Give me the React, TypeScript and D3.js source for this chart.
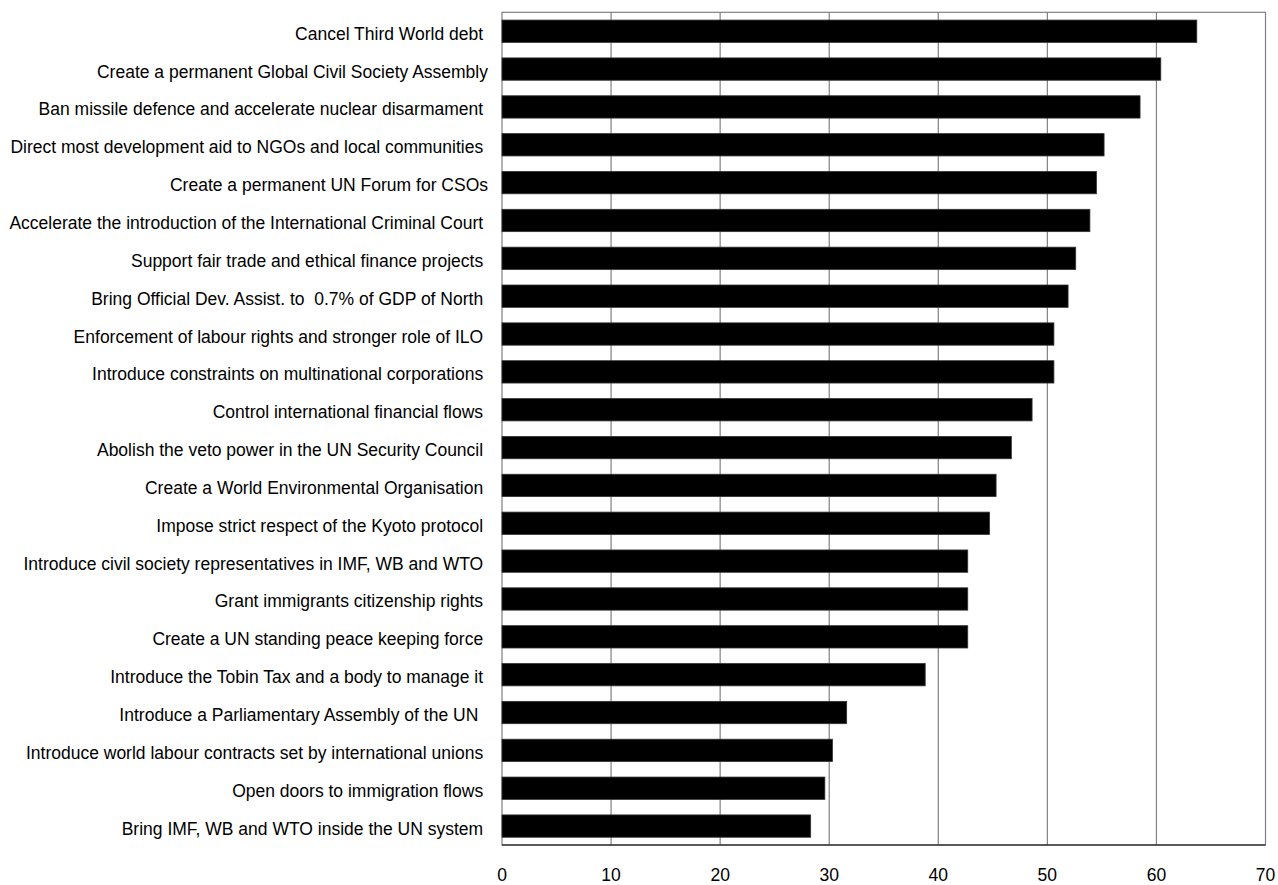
import React from "react";
import * as d3 from "d3";

const categories: string[] = [
  "Cancel Third World debt ",
  "Create a permanent Global Civil Society Assembly",
  "Ban missile defence and accelerate nuclear disarmament ",
  "Direct most development aid to NGOs and local communities ",
  "Create a permanent UN Forum for CSOs",
  "Accelerate the introduction of the International Criminal Court ",
  "Support fair trade and ethical finance projects ",
  "Bring Official Dev. Assist. to  0.7% of GDP of North ",
  "Enforcement of labour rights and stronger role of ILO ",
  "Introduce constraints on multinational corporations ",
  "Control international financial flows ",
  "Abolish the veto power in the UN Security Council ",
  "Create a World Environmental Organisation ",
  "Impose strict respect of the Kyoto protocol ",
  "Introduce civil society representatives in IMF, WB and WTO ",
  "Grant immigrants citizenship rights ",
  "Create a UN standing peace keeping force ",
  "Introduce the Tobin Tax and a body to manage it ",
  "Introduce a Parliamentary Assembly of the UN  ",
  "Introduce world labour contracts set by international unions ",
  "Open doors to immigration flows ",
  "Bring IMF, WB and WTO inside the UN system ",
];

const values: number[] = [
  63.7, 60.4, 58.5, 55.2, 54.5, 53.9, 52.6, 51.9, 50.6, 50.6, 48.6, 46.7,
  45.3, 44.7, 42.7, 42.7, 42.7, 38.8, 31.6, 30.3, 29.6, 28.3,
];

const xTicks: number[] = [0, 10, 20, 30, 40, 50, 60, 70];

const W = 1278;
const H = 885;
const plotLeft = 502;
const plotRight = 1265.5;
const plotTop = 12.3;
const plotBottom = 845;
const labelX = 488;
const FONT = "Liberation Sans, Arial, Helvetica, sans-serif";
const FS = 17.5;

export default function App() {
  const x = d3.scaleLinear().domain([0, 70]).range([plotLeft, plotRight]);
  const y = d3
    .scaleBand<string>()
    .domain(categories)
    .range([plotTop, plotBottom])
    .paddingInner(0.41)
    .paddingOuter(0.205);

  return (
    <svg
      width={W}
      height={H}
      style={{ position: "absolute", left: 0, top: 0, background: "#fff" }}
    >
      <rect
        x={plotLeft}
        y={plotTop}
        width={plotRight - plotLeft}
        height={plotBottom - plotTop}
        fill="#fff"
        stroke="#808080"
        strokeWidth={1.2}
      />
      {xTicks.slice(1, -1).map((t) => (
        <line
          key={"g" + t}
          x1={x(t)}
          x2={x(t)}
          y1={plotTop}
          y2={plotBottom}
          stroke="#808080"
          strokeWidth={1.2}
        />
      ))}
      {categories.map((c, i) => (
        <rect
          key={"b" + i}
          x={x(0)}
          y={y(c)!}
          width={x(values[i]) - x(0)}
          height={y.bandwidth()}
          fill="#000"
          stroke="#333"
          strokeWidth={0.8}
        />
      ))}
      <line
        x1={plotLeft}
        x2={plotRight}
        y1={plotBottom}
        y2={plotBottom}
        stroke="#000"
        strokeWidth={1.2}
      />
      {categories.map((c, i) => (
        <text
          key={"l" + i}
          x={labelX}
          y={y(c)! + y.bandwidth() / 2 + 8.5}
          textAnchor="end"
          fontFamily={FONT}
          fontSize={FS}
          fill="#000"
          style={{ whiteSpace: "pre" }}
        >
          {c}
        </text>
      ))}
      {xTicks.map((t) => (
        <text
          key={"t" + t}
          x={x(t)}
          y={880.5}
          textAnchor="middle"
          fontFamily={FONT}
          fontSize={FS}
          fill="#000"
        >
          {t}
        </text>
      ))}
    </svg>
  );
}
